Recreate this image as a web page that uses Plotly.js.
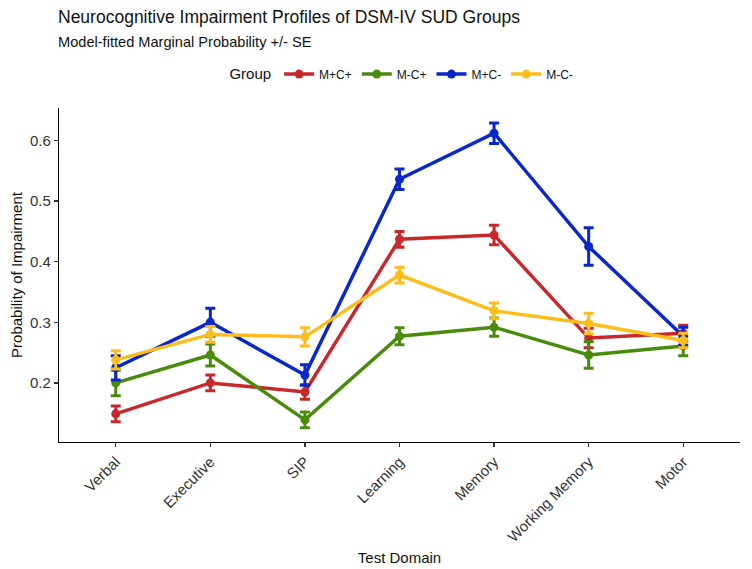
<!DOCTYPE html>
<html>
<head>
<meta charset="utf-8">
<script src="https://cdn.plot.ly/plotly-3.0.1.min.js"></script>
<style>html,body{margin:0;padding:0;background:#fff}#chart{width:752px;height:569px}</style>
</head>
<body>
<div id="chart"></div>
<script>
const domains = ["Verbal", "Executive", "SIP", "Learning", "Memory", "Working Memory", "Motor"];
const groups = ["M+C+", "M-C+", "M+C-", "M-C-"];
const colors = ["#C8282A", "#4B8B0C", "#0A27C9", "#FDBD1C"];

const probMpCp = [0.149, 0.200, 0.185, 0.437, 0.444, 0.274, 0.282];
const seMpCp   = [0.013, 0.013, 0.012, 0.013, 0.016, 0.016, 0.013];
const probMmCp = [0.200, 0.246, 0.139, 0.277, 0.292, 0.246, 0.261];
const seMmCp   = [0.021, 0.018, 0.013, 0.014, 0.015, 0.022, 0.016];
const probMpCm = [0.225, 0.300, 0.213, 0.536, 0.612, 0.425, 0.277];
const seMpCm   = [0.020, 0.023, 0.017, 0.017, 0.017, 0.031, 0.015];
const probMmCm = [0.238, 0.280, 0.276, 0.378, 0.319, 0.298, 0.270];
const seMmCm   = [0.015, 0.013, 0.015, 0.013, 0.013, 0.017, 0.012];

const probs = [probMpCp, probMmCp, probMpCm, probMmCm];
const ses = [seMpCp, seMmCp, seMpCm, seMmCm];

const traces = groups.map((g, i) => ({
  type: "scatter",
  mode: "lines+markers",
  name: g,
  x: domains,
  y: probs[i],
  line: {color: colors[i], width: 3.5},
  marker: {color: colors[i], size: 9},
  error_y: {type: "data", array: ses[i], visible: true, color: colors[i], thickness: 3, width: 5}
}));

const font = "Liberation Sans, Arial, sans-serif";
const layout = {
  width: 752, height: 569,
  margin: {l: 59, r: 12, t: 108, b: 127},
  paper_bgcolor: "#fff", plot_bgcolor: "#fff",
  font: {family: font, color: "#222"},
  showlegend: true,
  legend: {
    orientation: "h", x: 0.505, xanchor: "center", y: 1.1, yanchor: "middle",
    title: {text: "Group", side: "left", font: {size: 15, color: "#111"}},
    font: {size: 12, color: "#111"}, itemwidth: 30, tracegroupgap: 0
  },
  annotations: [
    {text: "Neurocognitive Impairment Profiles of DSM-IV SUD Groups", xref: "paper", yref: "paper",
     x: 0, xanchor: "left", xshift: -3, y: 1, yanchor: "middle", yshift: 91, showarrow: false,
     font: {size: 17.5, color: "#111"}},
    {text: "Model-fitted Marginal Probability +/- SE", xref: "paper", yref: "paper",
     x: 0, xanchor: "left", xshift: -3, y: 1, yanchor: "middle", yshift: 66, showarrow: false,
     font: {size: 14.6, color: "#111"}}
  ],
  xaxis: {
    type: "category", range: [-0.6, 6.6],
    showline: true, linecolor: "#000", linewidth: 1.2,
    ticks: "outside", ticklen: 4, tickcolor: "#333", tickwidth: 1.2,
    showgrid: false, zeroline: false, tickangle: -45,
    tickfont: {size: 15, color: "#333"},
    title: {text: "Test Domain", font: {size: 15, color: "#111"}, standoff: 8}
  },
  yaxis: {
    range: [0.1025, 0.6536],
    tickvals: [0.2, 0.3, 0.4, 0.5, 0.6], ticktext: ["0.2", "0.3", "0.4", "0.5", "0.6"],
    showline: true, linecolor: "#000", linewidth: 1.2,
    ticks: "outside", ticklen: 4, tickcolor: "#333", tickwidth: 1.2,
    showgrid: false, zeroline: false,
    tickfont: {size: 15, color: "#333"},
    title: {text: "Probability of Impairment", font: {size: 15, color: "#111"}, standoff: 3}
  }
};

Plotly.newPlot("chart", traces, layout, {displayModeBar: false, staticPlot: true});
</script>
</body>
</html>
